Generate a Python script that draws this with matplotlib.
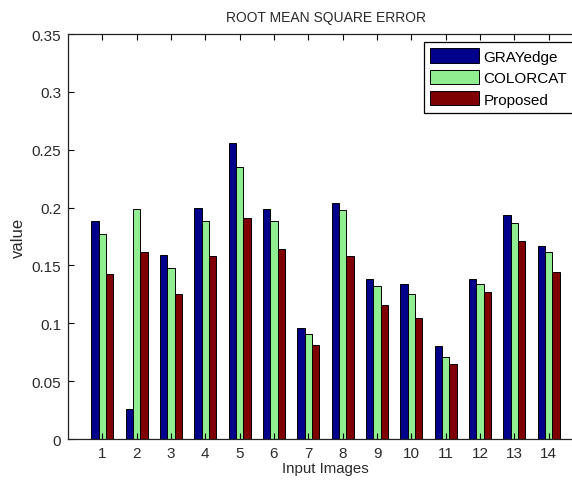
import matplotlib
matplotlib.use("Agg")
import matplotlib.pyplot as plt
import numpy as np

plt.rcParams['font.family'] = ['Liberation Sans', 'DejaVu Sans']

images = [1, 2, 3, 4, 5, 6, 7, 8, 9, 10, 11, 12, 13, 14]
grayedge = [0.188, 0.026, 0.159, 0.200, 0.256, 0.199, 0.096, 0.204, 0.138, 0.134, 0.080, 0.138, 0.194, 0.167]
colorcat = [0.177, 0.199, 0.148, 0.188, 0.235, 0.188, 0.091, 0.198, 0.132, 0.125, 0.071, 0.134, 0.187, 0.162]
proposed = [0.143, 0.162, 0.125, 0.158, 0.191, 0.164, 0.081, 0.158, 0.116, 0.105, 0.065, 0.127, 0.171, 0.144]
series_names = ["GRAYedge", "COLORCAT", "Proposed"]
yticks = [0, 0.05, 0.1, 0.15, 0.2, 0.25, 0.3, 0.35]
ytick_labels = ["0", "0.05", "0.1", "0.15", "0.2", "0.25", "0.3", "0.35"]

colors = ["#00008a", "#90ee90", "#7f0000"]
txt = "#2a2a2a"

W, H = 572, 481
fig = plt.figure(figsize=(W / 100, H / 100), dpi=100)
ax = fig.add_axes([68 / W, 1 - 440 / H, (583 - 68) / W, 405 / H])

x = np.array(images, dtype=float)
bw = 0.215
for i, (vals, name, c) in enumerate(zip([grayedge, colorcat, proposed], series_names, colors)):
    ax.bar(x + (i - 1) * bw, vals, width=bw, color=c, edgecolor="black",
           linewidth=0.7, label=name)

ax.set_xlim(0, 15)
ax.set_ylim(0, 0.35)
ax.set_xticks(images)
ax.set_xticklabels([str(v) for v in images], fontsize=11, color=txt)
ax.set_yticks(yticks)
ax.set_yticklabels(ytick_labels, fontsize=11, color=txt)
ax.tick_params(direction="in", top=True, right=True, length=4, width=0.8, pad=5)
for s in ax.spines.values():
    s.set_linewidth(0.9)
    s.set_color("#222222")

ax.set_title("ROOT MEAN SQUARE ERROR", fontsize=10, color=txt, pad=9)
ax.set_xlabel("Input Images", fontsize=10.8, color=txt, labelpad=1)
ax.set_ylabel("value", fontsize=12, color=txt, labelpad=4)

leg = ax.legend(loc="upper left", bbox_to_anchor=(424 / W, 1 - 43 / H),
                bbox_transform=fig.transFigure, fontsize=11, frameon=True,
                fancybox=False, framealpha=1, edgecolor="black",
                handlelength=3.2, handleheight=1.05, handletextpad=0.26,
                labelspacing=0.4, borderpad=0.42, borderaxespad=0)
leg.get_frame().set_linewidth(0.9)

fig.savefig("out.png", dpi=100)
